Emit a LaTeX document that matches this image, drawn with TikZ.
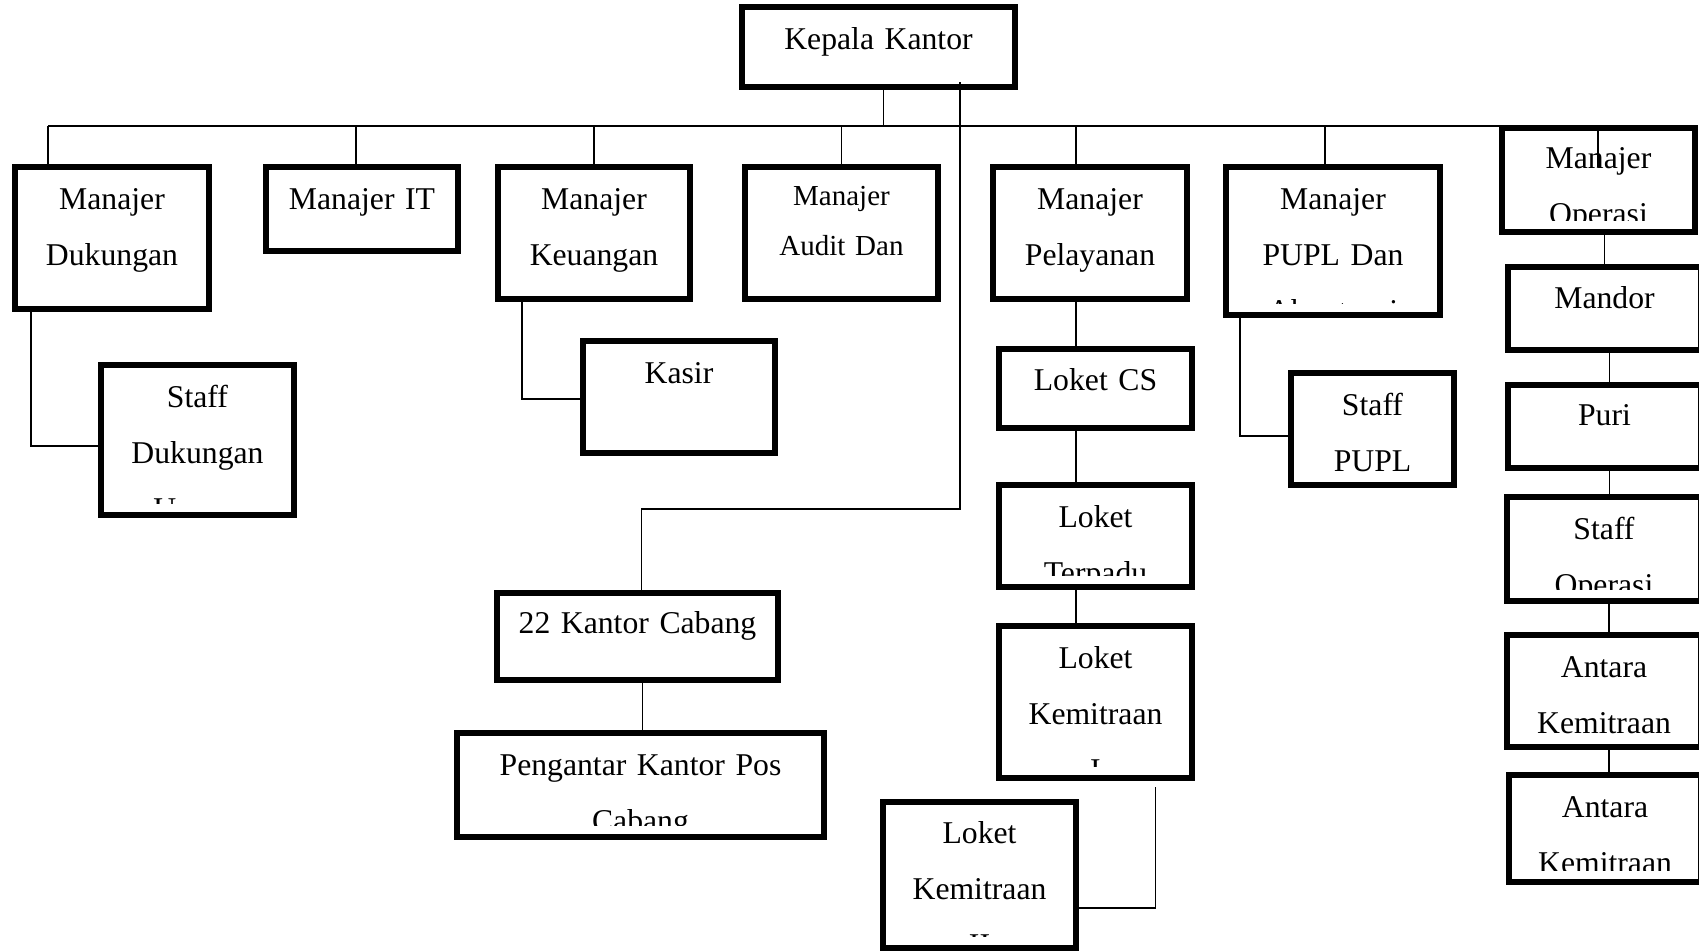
\documentclass[tikz,border=0pt]{standalone}
\usepackage{fontspec}
\setmainfont{Liberation Serif}

\tikzset{
  boxfont/.store in=\boxfont, boxfont={\fontsize{31.7}{56}\selectfont},
  textdrop/.store in=\textdrop, textdrop=42pt,
  orgbox/.style={draw, rectangle, line width=5.5pt, inner sep=0pt, outer sep=0pt, anchor=north west,
    path picture={
      \clip (path picture bounding box.north west) rectangle ([yshift=12pt]path picture bounding box.south east);
      \node[text width=400pt, align=center, font=\boxfont, inner sep=0pt, anchor=base] at ([yshift=-\textdrop]path picture bounding box.north) {#1};
    }},
  boxsize/.style 2 args={minimum width=#1pt, minimum height=#2pt},
  link/.style={line width=1.8pt}
}

\begin{document}
\begin{tikzpicture}[x=1pt, y=-1pt]
  \useasboundingbox (0,0) rectangle (1699,950);

  % Pimpinan und Manajer-Reihe
  \node[orgbox={Kepala Kantor}, boxsize={273}{80}] (kepala) at (742,7) {};
  \node[orgbox={Manajer\\Dukungan}, boxsize={194}{142}] (dukungan) at (15,167) {};
  \node[orgbox={Manajer IT}, boxsize={192}{84}] (it) at (266,167) {};
  \node[orgbox={Manajer\\Keuangan}, boxsize={192}{132}] (keuangan) at (498,167) {};
  \node[boxfont={\fontsize{29}{50}\selectfont}, textdrop=38pt,
        orgbox={Manajer\\Audit Dan}, boxsize={193}{132}] (audit) at (745,167) {};
  \node[orgbox={Manajer\\Pelayanan}, boxsize={194}{132}] (pelayanan) at (993,167) {};
  \node[orgbox={Manajer\\PUPL Dan\\Akuntansi}, boxsize={214}{148}] (pupl) at (1226,167) {};
  \node[textdrop=40pt, orgbox={Manajer\\Operasi}, boxsize={193}{104}] (operasi) at (1502,128) {};

  % Bawahan
  \node[orgbox={Staff\\Dukungan\\Umum}, boxsize={193}{150}] (staffduk) at (101,365) {};
  \node[orgbox={Kasir}, boxsize={192}{112}] (kasir) at (583,341) {};
  \node[textdrop=40pt, orgbox={22 Kantor Cabang}, boxsize={281}{87}] (cabang) at (497,593) {};
  \node[orgbox={Pengantar Kantor Pos\\Cabang}, boxsize={367}{104}] (pengantar) at (457,733) {};
  \node[textdrop=41pt, orgbox={Loket CS}, boxsize={193}{79}] (loketcs) at (999,349) {};
  \node[orgbox={Loket\\Terpadu}, boxsize={193}{102}] (terpadu) at (999,485) {};
  \node[orgbox={Loket\\Kemitraan\\I}, boxsize={193}{152}] (kemi) at (999,626) {};
  \node[textdrop=41pt, orgbox={Loket\\Kemitraan\\II}, boxsize={193}{146}] (kemii) at (883,802) {};
  \node[orgbox={Staff\\PUPL}, boxsize={163}{112}] (staffpupl) at (1291,373) {};
  \node[textdrop=41pt, orgbox={Mandor}, boxsize={193}{83}] (mandor) at (1508,267) {};
  \node[textdrop=40pt, orgbox={Puri}, boxsize={193}{83}] (puri) at (1508,385) {};
  \node[orgbox={Staff\\Operasi}, boxsize={194}{104}] (staffop) at (1507,497) {};
  \node[orgbox={Antara\\Kemitraan}, boxsize={194}{112}] (antara) at (1507,635) {};
  \node[orgbox={Antara\\Kemitraan}, boxsize={192}{107}] (antarab) at (1509,775) {};

  % Garis
  \coordinate (busL) at (48,126);
  \coordinate (busR) at (1598,126);
  \coordinate (kepdrop) at (960,82);
  \coordinate (cabjoin) at (960,509);
  \draw[link] (busL) -- (busR);
  \draw[link] ([xshift=5pt]kepala.south) -- ([xshift=5pt]kepala.south |- busL);
  \draw[link] ([xshift=-64pt]dukungan.north) -- ([xshift=-64pt]dukungan.north |- busL);
  \draw[link] ([xshift=-6pt]it.north) -- ([xshift=-6pt]it.north |- busL);
  \draw[link] (keuangan.north) -- (keuangan.north |- busL);
  \draw[link] (audit.north) -- (audit.north |- busL);
  \draw[link] ([xshift=-14pt]pelayanan.north) -- ([xshift=-14pt]pelayanan.north |- busL);
  \draw[link] ([xshift=-8pt]pupl.north) -- ([xshift=-8pt]pupl.north |- busL);
  \draw[link] (busR) -- (busR |- pelayanan.north);
  \draw[link] (kepdrop) -- (cabjoin) -| ([xshift=4pt]cabang.north);
  \draw[link] ([xshift=5pt]cabang.south) -- ([xshift=5pt]cabang.south |- pengantar.north);
  \draw[link] ([xshift=-81pt]dukungan.south) |- ([yshift=-6pt]staffduk.west);
  \draw[link] ([xshift=-72pt]keuangan.south) |- ([yshift=-2pt]kasir.west);
  \draw[link] ([xshift=-14pt]pelayanan.south) -- ([xshift=-14pt]pelayanan.south |- loketcs.north);
  \draw[link] ([xshift=-19.5pt]loketcs.south) -- ([xshift=-19.5pt]terpadu.north);
  \draw[link] ([xshift=-19.5pt]terpadu.south) -- ([xshift=-19.5pt]kemi.north);
  \draw[link] ([xshift=60pt,yshift=-9pt]kemi.south) |- ([yshift=-33pt]kemii.east);
  \draw[link] ([xshift=-93pt]pupl.south) |- ([yshift=-7pt]staffpupl.west);
  \draw[link] (operasi.south -| mandor.north) -- (mandor.north);
  \draw[link] ([xshift=5pt]mandor.south) -- ([xshift=5pt]puri.north);
  \draw[link] ([xshift=5pt]puri.south) -- ([xshift=5pt]puri.south |- staffop.north);
  \draw[link] ([xshift=5pt]staffop.south) -- ([xshift=5pt]staffop.south |- antara.north);
  \draw[link] ([xshift=5pt]antara.south) -- ([xshift=5pt]antara.south |- antarab.north);
\end{tikzpicture}
\end{document}
